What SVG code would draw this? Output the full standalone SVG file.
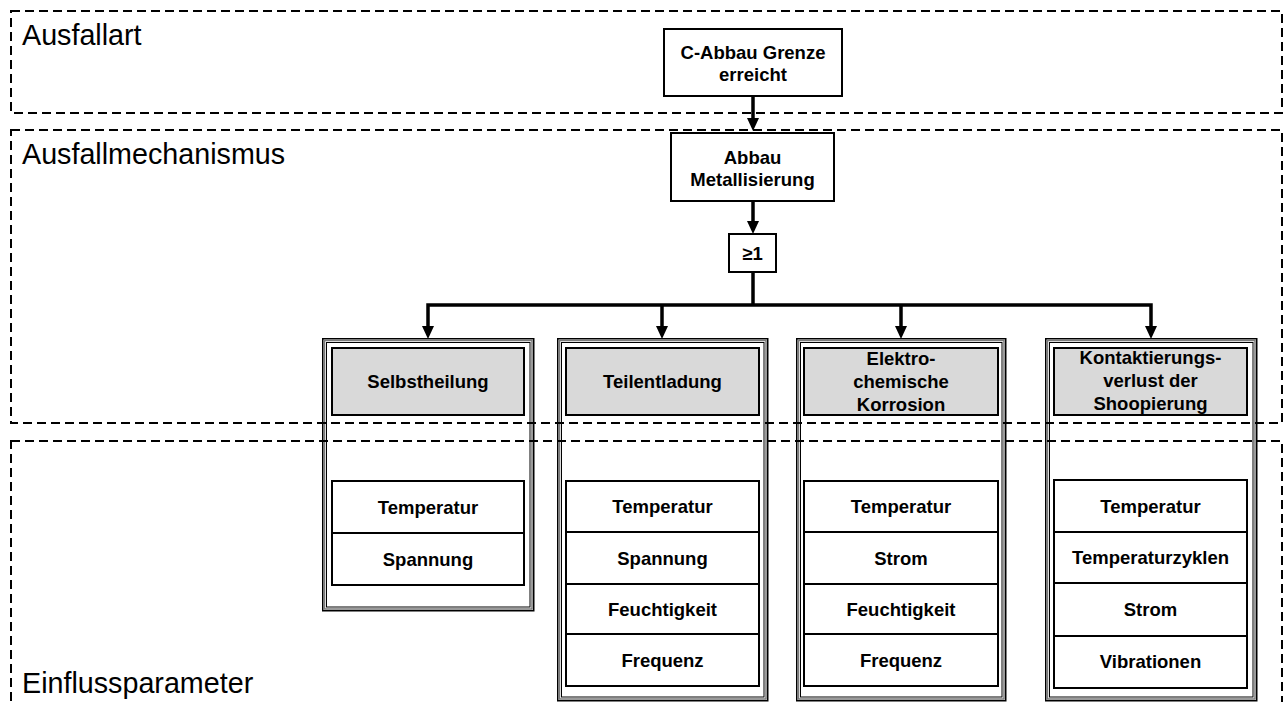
<svg xmlns="http://www.w3.org/2000/svg" width="1287" height="702" viewBox="0 0 1287 702">
<style>
.zone{fill:none;stroke:#000;stroke-width:2;stroke-dasharray:9 5}
.zl{font-family:"Liberation Sans",Arial,sans-serif;font-size:28.7px;fill:#000}
.box{fill:#fff;stroke:#000;stroke-width:2}
.hdr{fill:#d9d9d9;stroke:#000;stroke-width:2}
.t{font-family:"Liberation Sans",Arial,sans-serif;font-size:18.5px;font-weight:bold;fill:#000;text-anchor:middle}
.o1{fill:#fff;stroke:#000;stroke-width:1.5}
.o2{fill:none;stroke:#7a7a7a;stroke-width:1.5}
.o3{fill:none;stroke:#000;stroke-width:1}
.c{fill:none;stroke:#000;stroke-width:3.5}
</style>
<rect width="1287" height="702" fill="#fff"/>

<g id="connectors">
<line class="c" x1="753" y1="96" x2="753" y2="119"/>
<path d="M747,118 L759,118 L753,131 z" fill="#000"/>
<line class="c" x1="753" y1="201" x2="753" y2="222"/>
<path d="M747,221 L759,221 L753,234 z" fill="#000"/>
<line class="c" x1="753" y1="272" x2="753" y2="305"/>
<polyline class="c" points="428,327 428,305 1151,305 1151,327"/>
<line class="c" x1="662" y1="305" x2="662" y2="327"/>
<line class="c" x1="901" y1="305" x2="901" y2="327"/>
<path d="M422,326 L434,326 L428,339 z" fill="#000"/>
<path d="M656,326 L668,326 L662,339 z" fill="#000"/>
<path d="M895,326 L907,326 L901,339 z" fill="#000"/>
<path d="M1145,326 L1157,326 L1151,339 z" fill="#000"/>
</g>

<g id="node-c-abbau">
<rect class="box" x="664" y="29" width="178" height="67"/>
<text class="t" x="753" y="59">C-Abbau Grenze</text>
<text class="t" x="753" y="81">erreicht</text>
</g>

<g id="node-abbau-metall">
<rect class="box" x="671" y="133" width="163" height="68"/>
<text class="t" x="752.5" y="164">Abbau</text>
<text class="t" x="752.5" y="186">Metallisierung</text>
</g>

<g id="node-or">
<rect class="box" x="729" y="234" width="47" height="38"/>
<text class="t" x="752.5" y="260">≥1</text>
</g>

<g id="col-selbstheilung">
<rect class="o1" x="322.75" y="338.75" width="211" height="272"/>
<rect class="o2" x="324.5" y="340.5" width="207.5" height="268.5"/>
<rect class="o3" x="326.5" y="342.5" width="203.5" height="264.5"/>
<rect class="hdr" x="332" y="348" width="192" height="67"/>
<text class="t" x="428" y="388">Selbstheilung</text>
<rect class="box" x="332" y="481" width="192" height="52"/>
<text class="t" x="428" y="514">Temperatur</text>
<rect class="box" x="332" y="533" width="192" height="52"/>
<text class="t" x="428" y="566">Spannung</text>
</g>

<g id="col-teilentladung">
<rect class="o1" x="557.75" y="338.75" width="210" height="362"/>
<rect class="o2" x="559.5" y="340.5" width="206.5" height="358.5"/>
<rect class="o3" x="561.5" y="342.5" width="202.5" height="354.5"/>
<rect class="hdr" x="566" y="348" width="193" height="67"/>
<text class="t" x="662.5" y="388">Teilentladung</text>
<rect class="box" x="566" y="481" width="193" height="51"/>
<text class="t" x="662.5" y="513">Temperatur</text>
<rect class="box" x="566" y="532" width="193" height="52"/>
<text class="t" x="662.5" y="565">Spannung</text>
<rect class="box" x="566" y="584" width="193" height="50"/>
<text class="t" x="662.5" y="616">Feuchtigkeit</text>
<rect class="box" x="566" y="634" width="193" height="52"/>
<text class="t" x="662.5" y="667">Frequenz</text>
</g>

<g id="col-korrosion">
<rect class="o1" x="796.75" y="338.75" width="209" height="362"/>
<rect class="o2" x="798.5" y="340.5" width="205.5" height="358.5"/>
<rect class="o3" x="800.5" y="342.5" width="201.5" height="354.5"/>
<rect class="hdr" x="804" y="348" width="194" height="67"/>
<text class="t" x="901" y="365">Elektro-</text>
<text class="t" x="901" y="388">chemische</text>
<text class="t" x="901" y="411">Korrosion</text>
<rect class="box" x="804" y="481" width="194" height="51"/>
<text class="t" x="901" y="513">Temperatur</text>
<rect class="box" x="804" y="532" width="194" height="52"/>
<text class="t" x="901" y="565">Strom</text>
<rect class="box" x="804" y="584" width="194" height="50"/>
<text class="t" x="901" y="616">Feuchtigkeit</text>
<rect class="box" x="804" y="634" width="194" height="52"/>
<text class="t" x="901" y="667">Frequenz</text>
</g>

<g id="col-kontaktierung">
<rect class="o1" x="1045.75" y="338.75" width="211" height="362"/>
<rect class="o2" x="1047.5" y="340.5" width="207.5" height="358.5"/>
<rect class="o3" x="1049.5" y="342.5" width="203.5" height="354.5"/>
<rect class="hdr" x="1054" y="348" width="193" height="67"/>
<text class="t" x="1150.5" y="364">Kontaktierungs-</text>
<text class="t" x="1150.5" y="387">verlust der</text>
<text class="t" x="1150.5" y="410">Shoopierung</text>
<rect class="box" x="1054" y="480" width="193" height="52"/>
<text class="t" x="1150.5" y="513">Temperatur</text>
<rect class="box" x="1054" y="532" width="193" height="51"/>
<text class="t" x="1150.5" y="564">Temperaturzyklen</text>
<rect class="box" x="1054" y="583" width="193" height="53"/>
<text class="t" x="1150.5" y="616">Strom</text>
<rect class="box" x="1054" y="636" width="193" height="52"/>
<text class="t" x="1150.5" y="668">Vibrationen</text>
</g>

<g id="zone-ausfallart">
<rect class="zone" x="11" y="11" width="1271" height="102"/>
<text class="zl" x="22" y="45">Ausfallart</text>
</g>
<g id="zone-ausfallmechanismus">
<rect class="zone" x="11" y="130" width="1271" height="293"/>
<text class="zl" x="22" y="164">Ausfallmechanismus</text>
</g>
<g id="zone-einflussparameter">
<rect class="zone" x="11" y="441" width="1271" height="280"/>
<text class="zl" x="22" y="693">Einflussparameter</text>
</g>
</svg>
